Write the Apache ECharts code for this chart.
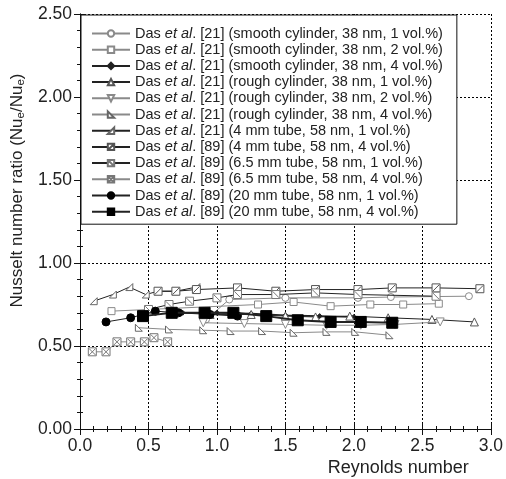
<!DOCTYPE html>
<html><head><meta charset="utf-8">
<script src="https://cdn.jsdelivr.net/npm/echarts@6/dist/echarts.min.js"></script>
<style>html,body{margin:0;padding:0;background:#fff}#c{width:506px;height:479px}</style>
</head><body><div id="c"></div>
<script>
// ---- data ----
const seriesNames = [
  'Das et al. [21] (smooth cylinder, 38 nm, 1 vol.%)',
  'Das et al. [21] (smooth cylinder, 38 nm, 2 vol.%)',
  'Das et al. [21] (smooth cylinder, 38 nm, 4 vol.%)',
  'Das et al. [21] (rough cylinder, 38 nm, 1 vol.%)',
  'Das et al. [21] (rough cylinder, 38 nm, 2 vol.%)',
  'Das et al. [21] (rough cylinder, 38 nm, 4 vol.%)',
  'Das et al. [21] (4 mm tube, 58 nm, 1 vol.%)',
  'Das et al. [89] (4 mm tube, 58 nm, 4 vol.%)',
  'Das et al. [89] (6.5 mm tube, 58 nm, 1 vol.%)',
  'Das et al. [89] (6.5 mm tube, 58 nm, 4 vol.%)',
  'Das et al. [89] (20 mm tube, 58 nm, 1 vol.%)',
  'Das et al. [89] (20 mm tube, 58 nm, 4 vol.%)'
];
const smooth1X = [0.92, 1.09, 1.5, 2.03, 2.27, 2.84];
const smooth1Y = [0.66, 0.78, 0.79, 0.79, 0.795, 0.80];
const smooth2X = [0.23, 1.3, 1.56, 1.83, 2.12, 2.36, 2.62];
const smooth2Y = [0.71, 0.75, 0.765, 0.74, 0.75, 0.75, 0.755];
const smooth4X = [0.75, 1.0, 1.25, 1.5, 1.75, 2.0];
const smooth4Y = [0.70, 0.70, 0.695, 0.685, 0.68, 0.675];
const rough1X = [0.95, 1.25, 1.5, 1.72, 1.97, 2.25, 2.57, 2.88];
const rough1Y = [0.69, 0.69, 0.68, 0.675, 0.68, 0.67, 0.66, 0.645];
const rough2X = [0.9, 1.2, 1.5, 1.8, 2.05, 2.3, 2.63];
const rough2Y = [0.64, 0.635, 0.63, 0.625, 0.625, 0.63, 0.645];
const rough4X = [0.43, 0.65, 0.9, 1.1, 1.33, 1.56, 1.8, 2.01, 2.26];
const rough4Y = [0.61, 0.60, 0.595, 0.59, 0.59, 0.58, 0.585, 0.585, 0.565];
const tube4a1X = [0.1, 0.24, 0.36, 0.48, 0.57, 0.7, 0.85];
const tube4a1Y = [0.77, 0.81, 0.855, 0.81, 0.83, 0.83, 0.855];
const tube4a4X = [0.57, 0.7, 0.85, 1.15, 1.43, 1.72, 2.03, 2.28, 2.6, 2.92];
const tube4a4Y = [0.83, 0.83, 0.84, 0.85, 0.83, 0.84, 0.84, 0.85, 0.85, 0.845];
const tube65a1X = [0.5, 0.65, 0.8, 1.0, 1.15, 1.43, 1.72, 2.03, 2.6];
const tube65a1Y = [0.72, 0.75, 0.77, 0.79, 0.81, 0.81, 0.82, 0.81, 0.80];
const tube65a4X = [0.09, 0.19, 0.27, 0.37, 0.47, 0.54, 0.64];
const tube65a4Y = [0.465, 0.465, 0.525, 0.525, 0.525, 0.55, 0.525];
const tube20a1X = [0.19, 0.37, 0.55, 0.72, 0.95, 1.15];
const tube20a1Y = [0.645, 0.67, 0.71, 0.70, 0.69, 0.68];
const tube20a4X = [0.46, 0.67, 0.91, 1.12, 1.36, 1.59, 1.83, 2.05, 2.28];
const tube20a4Y = [0.68, 0.70, 0.70, 0.70, 0.68, 0.655, 0.645, 0.645, 0.64];
const xTicks = ['0.0','0.5','1.0','1.5','2.0','2.5','3.0'];
const yTicks = ['0.00','0.50','1.00','1.50','2.00','2.50'];
// ---- chart ----
const zip = (xs, ys) => xs.map((x, i) => [x, ys[i]]);
const GRAY = '#8a8a8a', BLACK = '#222';
const P_DIAG = 'path://M0,0L10,0L10,10L0,10Z M1,9L9,1';
const P_CROSS = 'path://M0,0L10,0L10,10L0,10Z M1,1L9,9 M9,1L1,9';
const P_RTRI = 'path://M0,0L0,10L10,10Z';
const styles = [
  {d: zip(smooth1X, smooth1Y), lc: GRAY, lw: 1, sym: 'circle', ss: 7, fill: '#fff', bc: GRAY},
  {d: zip(smooth2X, smooth2Y), lc: GRAY, lw: 1, sym: 'rect', ss: 7, fill: '#fff', bc: GRAY},
  {d: zip(smooth4X, smooth4Y), lc: BLACK, lw: 1.6, sym: 'diamond', ss: 5, fill: BLACK, bc: BLACK},
  {d: zip(rough1X, rough1Y), lc: BLACK, lw: 1, sym: 'triangle', ss: 8, fill: '#fff', bc: '#555'},
  {d: zip(rough2X, rough2Y), lc: GRAY, lw: 1, sym: 'triangle', rot: 180, ss: 8, fill: '#fff', bc: GRAY},
  {d: zip(rough4X, rough4Y), lc: GRAY, lw: 1, sym: P_RTRI, ss: 7, fill: '#fff', bc: '#666'},
  {d: zip(tube4a1X, tube4a1Y), lc: BLACK, lw: 1, sym: P_RTRI, rot: 90, ss: 7, fill: '#fff', bc: '#666'},
  {d: zip(tube4a4X, tube4a4Y), lc: BLACK, lw: 1, sym: P_DIAG, ss: 8, fill: '#fff', bc: '#555'},
  {d: zip(tube65a1X, tube65a1Y), lc: BLACK, lw: 1, sym: P_DIAG, rot: 90, ss: 8, fill: '#fff', bc: '#777'},
  {d: zip(tube65a4X, tube65a4Y), lc: GRAY, lw: 1, sym: P_CROSS, ss: 8, fill: '#fff', bc: '#777'},
  {d: zip(tube20a1X, tube20a1Y), lc: BLACK, lw: 1, sym: 'circle', ss: 8, fill: '#000', bc: '#000'},
  {d: zip(tube20a4X, tube20a4Y), lc: BLACK, lw: 2, sym: 'rect', ss: 11, fill: '#000', bc: '#000'}
];
const series = styles.map((s, i) => ({
  type: 'line', name: seriesNames[i], data: s.d,
  xAxisIndex: 0, yAxisIndex: 0,
  symbol: s.sym, symbolSize: s.ss, symbolRotate: s.rot || 0, showAllSymbol: true,
  lineStyle: {color: s.lc, width: s.lw},
  itemStyle: {color: s.fill, borderColor: s.bc, borderWidth: 1},
  emphasis: {disabled: true}, animation: false, z: 3 + i
}));
const FONT = 'Liberation Sans, Arial, sans-serif';
const gridLine = {show: true, lineStyle: {color: '#000', type: [2, 2], width: 1}};
const chart = echarts.init(document.getElementById('c'));
chart.setOption({
  animation: false,
  textStyle: {fontFamily: FONT},
  grid: {left: 80, right: 12, top: 14, bottom: 50},
  legend: {
    orient: 'vertical', left: 81, top: 15,
    backgroundColor: '#fff', borderColor: '#111', borderWidth: 1,
    padding: [11, 14, 5, 10], itemGap: 1.2, itemWidth: 38, itemHeight: 8,
    textStyle: {fontFamily: FONT, fontSize: 14.5, color: '#222',
      rich: {i: {fontStyle: 'italic', fontFamily: FONT, fontSize: 14.5, color: '#222'}}},
    formatter: n => n.replace('et al', '{i|et al}'),
    selectedMode: false, z: 10
  },
  xAxis: [
    {type: 'value', min: 0, max: 3, interval: 0.5,
     name: 'Reynolds number', nameLocation: 'end', nameGap: -22,
     nameTextStyle: {align: 'right', verticalAlign: 'top', padding: [30, 0, 0, 0], fontSize: 18, color: '#222', fontFamily: FONT},
     axisLine: {lineStyle: {color: '#111'}},
     axisTick: {inside: true, length: 6, lineStyle: {color: '#111'}},
     minorTick: {show: true, splitNumber: 5, length: 3, lineStyle: {color: '#111'}},
     axisLabel: {fontSize: 17.5, color: '#222', margin: 8, formatter: v => xTicks[Math.round(v / 0.5)]},
     splitLine: gridLine},
    {type: 'value', min: 0, max: 3, interval: 0.5, position: 'top',
     axisLine: {lineStyle: {color: '#111'}},
     axisTick: {inside: true, length: 6, lineStyle: {color: '#111'}},
     minorTick: {show: true, splitNumber: 5, length: 3, lineStyle: {color: '#111'}},
     axisLabel: {show: false}, splitLine: {show: false}}
  ],
  yAxis: [
    {type: 'value', min: 0, max: 2.5, interval: 0.5,
     name: 'Nusselt number ratio (Nu{s|e}/Nu{s|e})', nameLocation: 'middle', nameGap: 52,
     nameTextStyle: {fontSize: 17, color: '#222', fontFamily: FONT, padding: [0, 0, 0, 62],
       rich: {s: {fontSize: 11.5, verticalAlign: 'bottom', padding: [8, 0, 0, 0], color: '#222', fontFamily: FONT}}},
     axisLine: {lineStyle: {color: '#111'}},
     axisTick: {inside: true, length: 6, lineStyle: {color: '#111'}},
     minorTick: {show: true, splitNumber: 5, length: 3, lineStyle: {color: '#111'}},
     axisLabel: {fontSize: 17.5, color: '#222', margin: 8, formatter: v => yTicks[Math.round(v / 0.5)]},
     splitLine: gridLine},
    {type: 'value', min: 0, max: 2.5, interval: 0.5, position: 'right',
     axisLine: {show: true, lineStyle: {color: '#111'}},
     axisTick: {show: true, inside: true, length: 6, lineStyle: {color: '#111'}},
     minorTick: {show: true, splitNumber: 5, length: 3, lineStyle: {color: '#111'}},
     axisLabel: {show: false}, splitLine: {show: false}}
  ],
  series: series
});
</script></body></html>
